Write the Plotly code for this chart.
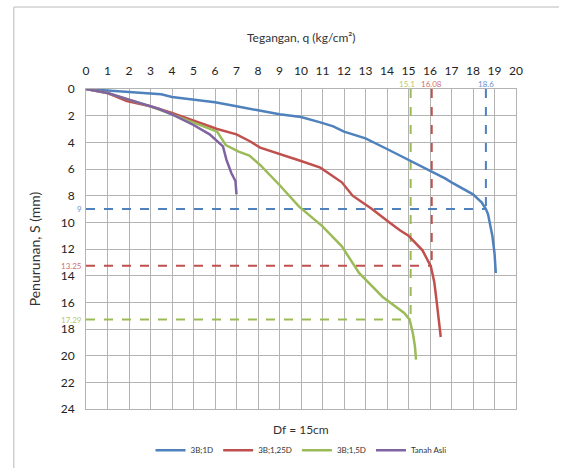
import plotly.graph_objects as go

# Load-settlement readings: q (kg/cm²) vs S (mm)
q_1d = [0, 1, 2, 3, 3.5, 4, 5, 6, 7, 7.6, 8, 9, 10, 10.9, 11.5, 12, 13, 14, 15, 16, 16.7, 17, 18, 18.4, 18.6, 18.7, 18.9, 19.0, 19.06]
s_1d = [0, 0.1, 0.2, 0.3, 0.4, 0.6, 0.8, 1.0, 1.3, 1.5, 1.6, 1.9, 2.1, 2.5, 2.8, 3.2, 3.7, 4.5, 5.3, 6.1, 6.7, 7.0, 7.9, 8.5, 9.0, 9.4, 11.0, 12.3, 13.8]

q_125d = [0, 1, 1.9, 3.0, 4.0, 5.0, 6.1, 7.0, 7.6, 8.1, 9.1, 10.0, 10.9, 11.9, 12.4, 13.3, 14.1, 14.6, 15.0, 15.5, 15.65, 16.04, 16.2, 16.3, 16.4, 16.5]
s_125d = [0, 0.3, 0.9, 1.3, 1.8, 2.4, 3.0, 3.4, 3.9, 4.4, 4.9, 5.4, 5.9, 7.0, 8.0, 9.0, 10.0, 10.6, 11.0, 11.8, 12.1, 13.3, 14.5, 15.8, 17.2, 18.6]

q_15d = [0, 1, 2, 3, 4, 5.0, 6.1, 6.5, 7.1, 7.6, 8.1, 9.0, 9.9, 11.0, 11.9, 12.7, 13.8, 14.8, 15.05, 15.2, 15.3, 15.35]
s_15d = [0, 0.3, 0.8, 1.3, 1.9, 2.5, 3.2, 4.2, 4.7, 5.0, 5.7, 7.2, 8.8, 10.3, 11.8, 13.8, 15.6, 16.8, 17.29, 18.3, 19.3, 20.3]

q_asli = [0, 1, 2, 3, 3.4, 4, 5.0, 5.75, 6.37, 6.53, 6.76, 6.95, 7.0]
s_asli = [0, 0.3, 0.8, 1.3, 1.5, 1.9, 2.7, 3.4, 4.3, 5.3, 6.3, 6.9, 7.9]

# Yield points
yield_q = [18.6, 16.08, 15.1]
yield_s = [9, 13.25, 17.29]
yield_q_labels = ["18.6", "16.08", "15.1"]
yield_s_labels = ["9", "13.25", "17.29"]

names = ["3B;1D", "3B;1,25D", "3B;1,5D", "Tanah Asli"]
colors = ["#4F81BD", "#C0504D", "#9BBB59", "#8064A2"]
label_colors = ["#6F8FC8", "#D07070", "#B8C870"]
FONT = "Lato"

fig = go.Figure()

# Dashed guides from the yield points to both axes
for qv, sv, c in zip(yield_q, yield_s, colors[:3]):
    fig.add_trace(go.Scatter(x=[qv, qv], y=[0, sv], mode="lines",
                             line=dict(color=c, width=2, dash="dash"),
                             showlegend=False, hoverinfo="skip"))
    fig.add_trace(go.Scatter(x=[0, qv], y=[sv, sv], mode="lines",
                             line=dict(color=c, width=2, dash="dash"),
                             showlegend=False, hoverinfo="skip"))

for xs, ys, n, c in zip([q_1d, q_125d, q_15d, q_asli], [s_1d, s_125d, s_15d, s_asli], names, colors):
    fig.add_trace(go.Scatter(x=xs, y=ys, mode="lines", name=n,
                             line=dict(color=c, width=2.5)))

# Value labels for the yield points
q_label_shift = [0, 0, -4]
for qv, txt, c, dx in zip(yield_q, yield_q_labels, label_colors, q_label_shift):
    fig.add_annotation(x=qv, y=0, text=txt, showarrow=False, yshift=5, xshift=dx,
                       font=dict(size=8, color=c, family=FONT))
for sv, txt, c in zip(yield_s, yield_s_labels, label_colors):
    fig.add_annotation(x=0, y=sv, text=txt, showarrow=False, xanchor="right",
                       xshift=-2, font=dict(size=8, color=c, family=FONT))

fig.add_annotation(x=0.5, y=-0.035, xref="paper", yref="paper", text="Df = 15cm",
                   showarrow=False, yanchor="top", font=dict(size=12, color="#333333", family=FONT))
fig.add_annotation(x=0.5, y=1.162, xref="paper", yref="paper", text="Tegangan, q (kg/cm²)",
                   showarrow=False, yanchor="middle", font=dict(size=12, color="#333333", family=FONT))

# Outer frame (left and top edges)
fig.add_shape(type="line", xref="paper", yref="paper", x0=-0.168, x1=1.1, y0=1.256, y1=1.256,
              line=dict(color="#d0d0d0", width=1.5))
fig.add_shape(type="line", xref="paper", yref="paper", x0=-0.168, x1=-0.168, y0=-0.2, y1=1.256,
              line=dict(color="#d0d0d0", width=1.5))

fig.update_xaxes(range=[0, 20], dtick=1, side="top", showgrid=True, gridcolor="#b3b3b3",
                 gridwidth=1, zeroline=False, showline=True, linecolor="#b3b3b3",
                 ticks="", ticklabelstandoff=8, tickfont=dict(size=12, color="#222222", family=FONT),
                 mirror=True, automargin=False)
fig.update_yaxes(range=[24, 0], dtick=2, showgrid=True, gridcolor="#b3b3b3",
                 gridwidth=1, zeroline=False, showline=True, linecolor="#b3b3b3",
                 ticks="", ticklabelstandoff=8, tickfont=dict(size=12, color="#222222", family=FONT),
                 mirror=True, automargin=False,
                 title=dict(text="Penurunan, S (mm)", font=dict(size=14, color="#333333", family=FONT),
                            standoff=16))

fig.update_layout(
    width=571, height=468,
    margin=dict(l=86, r=55, t=89, b=59, autoexpand=False),
    paper_bgcolor="white", plot_bgcolor="white",
    font=dict(family=FONT, color="#222222"),
    legend=dict(orientation="h", x=0.5, xanchor="center", yref="container", y=0.038,
                yanchor="middle", font=dict(size=8, color="#333333", family=FONT),
                traceorder="normal"),
)

fig.write_html("out.html")
